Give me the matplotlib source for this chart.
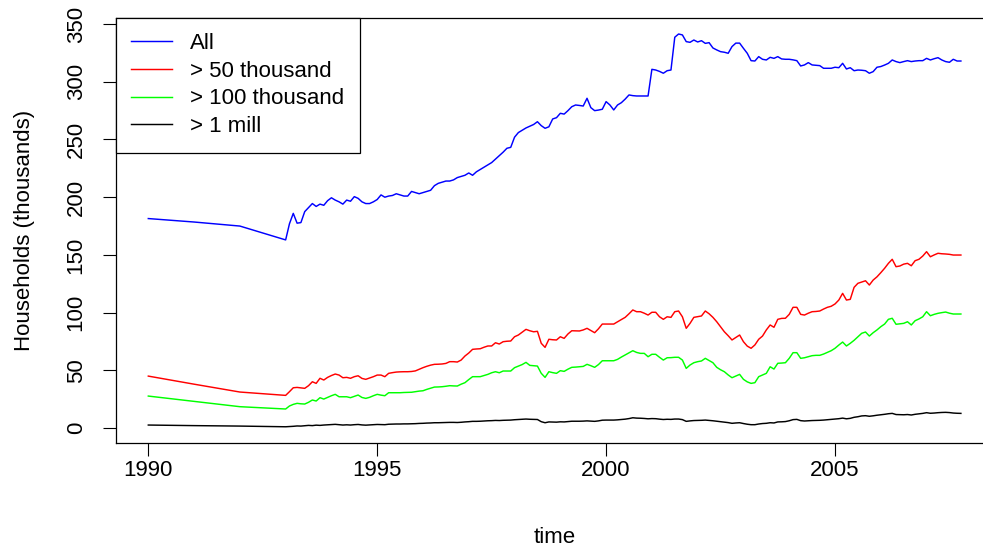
import numpy as np
import matplotlib
matplotlib.use("Agg")
import matplotlib.pyplot as plt

plt.rcParams['font.family'] = ['Liberation Sans', 'DejaVu Sans']

# annual values 1990-1992, monthly from Jan 1993 to Oct 2007
years_annual = [1990, 1991, 1992]
all_annual = [181.5, 178.5, 175.0]
k50_annual = [45.0, 38.0, 31.2]
k100_annual = [27.7, 23.1, 18.5]
mill_annual = [2.6, 2.1, 1.7]

all_monthly = [
    163, 177, 186, 177.5, 178, 187.5, 191, 194.5, 192, 194, 193, 197,            # 1993
    199.5, 197.5, 196, 194, 197.5, 196.5, 200.5, 199, 196, 194.5, 194.5, 196,   # 1994
    198, 202, 200, 201, 201.5, 203, 202, 201, 201, 205, 204, 203,               # 1995
    204, 205, 206, 210, 212, 213, 214, 214, 215, 217, 218, 219,                 # 1996
    221, 219, 222, 224, 226, 228, 230, 233, 236, 239, 242.4, 243.2,             # 1997
    252, 256, 258, 260, 261.5, 263, 265.4, 262, 259.7, 261, 267.8, 268.9,       # 1998
    272.7, 272, 275, 278.4, 279.9, 279.5, 279, 285.7, 277.6, 275, 275.5, 276.2, # 1999
    282.8, 279.9, 275.6, 279.9, 281.9, 285, 288.6, 288, 287.7, 287.7, 287.7, 287.7,  # 2000
    310.8, 310.2, 309, 307.4, 309.6, 310.2, 338.6, 341.4, 340.6, 334.8, 334.2, 336.2,  # 2001
    334.5, 335.6, 333.3, 333.9, 329.3, 327.6, 326.1, 325.6, 324.7, 330.5, 333.5, 333.5,  # 2002
    329, 324.7, 318.3, 318, 321.8, 319.5, 318.9, 321.2, 320.3, 321.8, 319.8, 319.5,  # 2003
    319.5, 319, 318.3, 313.7, 314.6, 316.6, 314.6, 314.3, 314, 311.7, 311.7, 311.7,  # 2004
    312.6, 312.2, 316, 311.1, 312.2, 309.6, 310.2, 310, 309.6, 307.4, 308.8, 312.6,  # 2005
    313.2, 314.5, 316, 318.9, 317.5, 316.6, 317.5, 318.3, 317.5, 318, 318.3, 318.3,  # 2006
    320.3, 318.9, 320, 320.9, 318.9, 317.5, 316.9, 319.5, 318, 318,                  # 2007
]

k50_monthly = [
    28.3, 31.5, 34.9, 35.2, 34.8, 34.4, 36.7, 40.1, 38.7, 43.1, 41.6, 43.9,
    45.5, 46.8, 45.9, 43.6, 43.9, 43.1, 44.5, 45.3, 43.0, 42.2, 43.3, 44.5,
    45.9, 45.9, 44.5, 47.4, 48.0, 48.5, 48.7, 48.8, 48.8, 49.0, 49.5, 50.9,
    52.3, 53.5, 54.5, 55.2, 55.3, 55.5, 56.0, 57.5, 57.5, 57.2, 58.9, 62.4,
    65.0, 68.2, 68.5, 68.7, 70.0, 71.1, 71.1, 73.9, 72.8, 74.8, 75.2, 75.4,
    79.1, 80.6, 83.0, 85.5, 84.3, 83.4, 83.8, 73.4, 69.9, 76.9, 76.5, 76.3,
    79.1, 77.7, 81.5, 84.3, 84.2, 84.1, 85.0, 86.4, 84.5, 82.6, 86.0, 90.1,
    90.1, 90.1, 90.1, 92.1, 94.0, 95.9, 99.0, 102.3, 100.8, 100.8, 99.5, 97.9,
    100.3, 100.3, 96.4, 94.2, 96.4, 95.9, 100.8, 101.4, 96.4, 86.4, 90.7, 95.9,
    96.5, 97.1, 101.4, 99.0, 95.9, 92.1, 87.8, 83.4, 80.0, 76.3, 78.5, 80.6,
    74.8, 71.0, 69.1, 72.0, 76.9, 79.7, 85.0, 89.3, 87.3, 94.2, 95.0, 95.1,
    98.5, 104.6, 104.6, 98.5, 97.9, 99.5, 100.8, 101.0, 101.4, 103.1, 104.6, 105.5,
    107.5, 110.9, 116.7, 110.9, 111.5, 121.9, 125.4, 126.5, 127.6, 123.9, 128.2, 131.0,
    134.6, 138.4, 142.7, 146.2, 139.8, 140.4, 142.0, 142.7, 140.6, 145.0, 146.2, 149.0,
    152.8, 148.4, 150.0, 151.4, 151.0, 150.8, 150.5, 149.9, 149.9, 149.9,
]

k100_monthly = [
    16.5, 19.1, 20.5, 21.4, 21.0, 20.8, 22.3, 24.3, 23.4, 26.3, 25.1, 26.6,
    28.0, 29.2, 27.1, 27.1, 27.1, 26.3, 27.5, 28.6, 26.5, 25.7, 26.6, 28.0,
    29.2, 28.5, 28.0, 30.6, 30.6, 30.6, 30.6, 30.8, 30.9, 31.0, 31.5, 32.0,
    32.3, 33.5, 34.5, 35.5, 35.6, 35.8, 36.2, 36.7, 36.5, 36.4, 38.0, 39.3,
    42.0, 44.5, 44.5, 44.5, 45.5, 46.5, 47.9, 48.8, 47.9, 49.4, 49.4, 49.4,
    52.3, 53.7, 55.0, 56.9, 54.3, 54.0, 53.7, 47.4, 43.9, 48.8, 48.0, 47.4,
    49.7, 49.1, 51.0, 52.6, 52.8, 53.1, 53.4, 55.2, 54.0, 52.6, 55.0, 58.3,
    58.3, 58.3, 58.3, 59.5, 61.5, 63.3, 65.0, 67.0, 65.5, 64.7, 64.7, 61.8,
    63.9, 63.9, 61.3, 58.9, 60.9, 61.0, 61.3, 61.3, 58.9, 51.7, 54.6, 56.6,
    57.5, 58.1, 60.4, 58.5, 56.6, 52.6, 50.5, 48.8, 46.0, 43.6, 45.0, 46.5,
    42.2, 40.0, 38.7, 39.3, 44.5, 46.0, 47.4, 53.1, 51.1, 56.1, 56.3, 56.6,
    60.4, 65.3, 65.3, 60.4, 60.9, 61.8, 62.7, 63.0, 63.0, 64.1, 65.5, 67.0,
    69.1, 71.9, 74.5, 71.1, 73.4, 76.0, 79.1, 82.1, 83.2, 79.7, 82.6, 85.0,
    87.8, 90.1, 94.2, 95.1, 89.9, 90.3, 90.7, 92.1, 89.3, 93.0, 94.5, 96.4,
    100.8, 97.3, 98.5, 99.4, 100.0, 100.5, 99.5, 98.8, 98.8, 98.8,
]

mill_monthly = [
    1.1, 1.3, 1.5, 1.8, 1.7, 2.0, 2.3, 2.1, 2.5, 2.3, 2.6, 2.8,
    3.0, 3.2, 2.9, 2.6, 2.8, 2.6, 2.9, 3.1, 2.7, 2.5, 2.7, 2.9,
    3.1, 3.0, 2.9, 3.3, 3.4, 3.5, 3.5, 3.6, 3.6, 3.7, 3.8, 4.0,
    4.1, 4.3, 4.4, 4.6, 4.6, 4.7, 4.8, 4.9, 4.9, 4.8, 5.0, 5.3,
    5.5, 5.8, 5.8, 5.9, 6.1, 6.3, 6.4, 6.6, 6.5, 6.7, 6.8, 6.9,
    7.2, 7.4, 7.6, 7.8, 7.6, 7.5, 7.4, 5.5, 4.6, 5.3, 5.2, 5.1,
    5.4, 5.3, 5.6, 5.9, 5.9, 5.9, 6.0, 6.2, 6.0, 5.8, 6.2, 6.8,
    6.9, 6.9, 6.9, 7.1, 7.4, 7.7, 8.2, 8.9, 8.6, 8.5, 8.3, 8.0,
    8.2, 8.1, 7.7, 7.4, 7.6, 7.5, 7.8, 7.8, 7.3, 5.8, 6.2, 6.5,
    6.6, 6.7, 6.9, 6.6, 6.3, 5.9, 5.5, 5.1, 4.7, 4.1, 4.4, 4.6,
    3.9, 3.3, 2.9, 2.9, 3.5, 3.9, 4.1, 4.6, 4.4, 5.3, 5.4, 5.6,
    6.3, 7.3, 7.5, 6.4, 6.1, 6.3, 6.5, 6.6, 6.7, 6.9, 7.2, 7.5,
    7.8, 8.1, 8.6, 8.0, 8.4, 9.3, 9.8, 10.5, 10.7, 10.2, 10.6, 11.1,
    11.5, 11.9, 12.4, 12.7, 11.7, 11.6, 11.5, 11.7, 11.3, 11.9, 12.3, 12.7,
    13.3, 12.8, 13.0, 13.3, 13.5, 13.6, 13.4, 13.0, 12.8, 12.7,
]

labels = ["All", "> 50 thousand", "> 100 thousand", "> 1 mill"]
colors = ["#0000ff", "#ff0000", "#00ff00", "#000000"]

t = np.concatenate([years_annual, 1993 + np.arange(len(all_monthly)) / 12])
series = [
    all_annual + all_monthly,
    k50_annual + k50_monthly,
    k100_annual + k100_monthly,
    mill_annual + mill_monthly,
]

W, H = 983, 549
fig = plt.figure(figsize=(W / 100, H / 100), dpi=100)
# axes box: left 115.8px, 1990 at 148.3, 45.78 px per year, extends past right edge
xlim = (1989.29, 2008.46)
ylim = (-12.7, 355.7)
left = 115.8
width = (xlim[1] - xlim[0]) * 45.78
ax = fig.add_axes([left / W, (H - 442.7) / H, width / W, (442.7 - 17.5) / H])

for y, lab, c in zip(series, labels, colors):
    ax.plot(t, y, color=c, lw=1.05, label=lab)

ax.set_xlim(*xlim)
ax.set_ylim(*ylim)
ax.set_xticks([1990, 1995, 2000, 2005])
ax.set_yticks(range(0, 351, 50))
ax.tick_params(length=9.5, width=0.8, labelsize=16)
ax.tick_params(axis="x", pad=3)
ax.tick_params(axis="y", pad=11.5)
for lab in ax.get_yticklabels():
    lab.set_rotation(90)
    lab.set_va("center")
for s in ax.spines.values():
    s.set_linewidth(0.9)

ax.set_xlabel("time", fontsize=16, labelpad=33)
ax.set_ylabel("Households (thousands)", fontsize=16, labelpad=22)

leg = ax.legend(loc="upper left", bbox_to_anchor=(0, 1), borderaxespad=0,
                fancybox=False, edgecolor="black", framealpha=1,
                fontsize=16, handlelength=1.85, handletextpad=0.8,
                labelspacing=0.3, borderpad=0.7)
leg.get_frame().set_linewidth(0.9)

fig.savefig("out.png", dpi=100)
